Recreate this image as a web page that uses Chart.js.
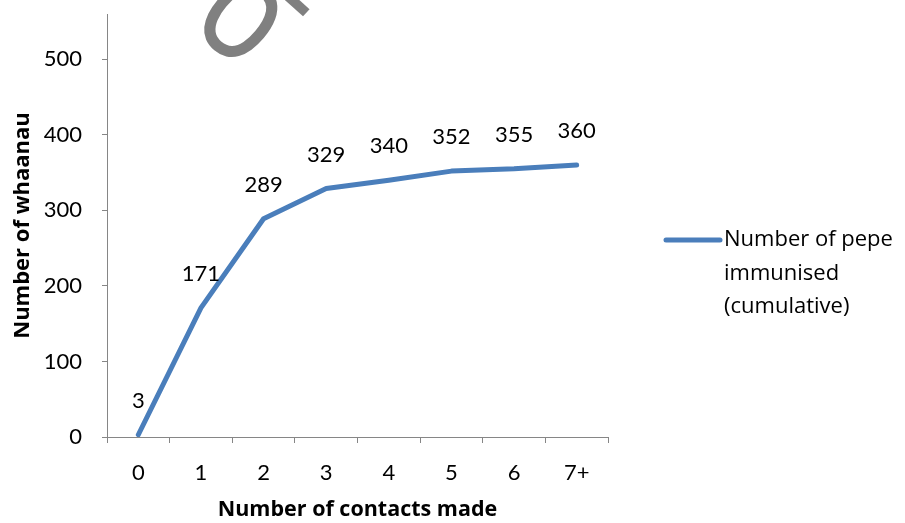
<!DOCTYPE html>
<html>
<head>
<meta charset="utf-8">
<script src="https://cdn.jsdelivr.net/npm/chart.js@4.4.1/dist/chart.umd.min.js"></script>
<style>
  html, body { margin: 0; padding: 0; background: #ffffff; }
  #c { display: block; }
</style>
</head>
<body>
<canvas id="c" width="905" height="523"></canvas>
<script>
// Cumulative pepe immunised by number of contacts made
const contactCategories = ['0', '1', '2', '3', '4', '5', '6', '7+'];
const pepeImmunised = [3, 171, 289, 329, 340, 352, 355, 360];
const yTickValues = [0, 100, 200, 300, 400, 500];
const seriesLabelLines = ['Number of pepe', 'immunised', '(cumulative)'];
const xAxisTitle = 'Number of contacts made';
const yAxisTitle = 'Number of whaanau';
const watermarkLetter = 'O';
const watermarkDash = '-';

const NUM_FONT = 'Lato, "Open Sans", sans-serif';
const TEXT_FONT = '"Open Sans", Lato, sans-serif';
const LINE_BLUE = '#4a7ebb';
const AXIS_GREY = '#868686';

// Value labels above each point
const valueLabels = {
  id: 'valueLabels',
  afterDatasetsDraw(chart) {
    const { ctx } = chart;
    const meta = chart.getDatasetMeta(0);
    ctx.save();
    ctx.font = '22px ' + NUM_FONT;
    ctx.fillStyle = '#000000';
    ctx.textAlign = 'center';
    ctx.textBaseline = 'middle';
    meta.data.forEach((pt, i) => {
      ctx.fillText(String(chart.data.datasets[0].data[i]), pt.x, pt.y - 34);
    });
    ctx.restore();
  }
};

// Legend on the right, wrapped over three lines
const sideLegend = {
  id: 'sideLegend',
  afterDraw(chart) {
    const { ctx } = chart;
    const x0 = 666, x1 = 720, y0 = 240;
    ctx.save();
    ctx.strokeStyle = LINE_BLUE;
    ctx.lineWidth = 5;
    ctx.lineCap = 'round';
    ctx.beginPath();
    ctx.moveTo(x0, y0);
    ctx.lineTo(x1, y0);
    ctx.stroke();
    ctx.font = '22px ' + TEXT_FONT;
    ctx.fillStyle = '#000000';
    ctx.textAlign = 'left';
    ctx.textBaseline = 'middle';
    seriesLabelLines.forEach((line, i) => {
      ctx.fillText(line, 724, y0 + i * 33.5);
    });
    ctx.restore();
  }
};

// Diagonal grey watermark lettering across the top edge
const watermark = {
  id: 'watermark',
  afterDraw(chart) {
    const { ctx } = chart;
    ctx.save();
    ctx.fillStyle = '#808080';
    ctx.textAlign = 'center';
    ctx.textBaseline = 'middle';
    ctx.save();
    ctx.font = '600 112px ' + TEXT_FONT;
    ctx.translate(238, 22);
    ctx.rotate(40 * Math.PI / 180);
    ctx.scale(0.8, 1);
    ctx.fillText(watermarkLetter, 0, 4);
    ctx.restore();
    ctx.save();
    ctx.font = '600 100px ' + TEXT_FONT;
    ctx.translate(298, 3);
    ctx.rotate(42 * Math.PI / 180);
    ctx.fillText(watermarkDash, 0, 0);
    ctx.restore();
    ctx.restore();
  }
};

new Chart(document.getElementById('c'), {
  type: 'line',
  data: {
    labels: contactCategories,
    datasets: [{
      label: seriesLabelLines.join(' '),
      data: pepeImmunised,
      borderColor: LINE_BLUE,
      backgroundColor: LINE_BLUE,
      borderWidth: 5,
      borderCapStyle: 'round',
      borderJoinStyle: 'round',
      pointRadius: 0,
      pointHoverRadius: 0,
      tension: 0,
      fill: false
    }]
  },
  options: {
    responsive: false,
    devicePixelRatio: 1,
    animation: false,
    events: [],
    layout: { padding: { top: 14, right: 297, left: 0, bottom: 0 } },
    plugins: {
      legend: { display: false },
      tooltip: { enabled: false }
    },
    scales: {
      x: {
        type: 'category',
        offset: true,
        afterFit(scale) {
          scale.height = 86;
          scale.paddingLeft = 0;
          scale.paddingRight = 0;
        },
        grid: {
          offset: true,
          drawOnChartArea: false,
          drawTicks: true,
          tickLength: 6,
          color: AXIS_GREY,
          lineWidth: 1
        },
        border: { color: AXIS_GREY, width: 1 },
        ticks: {
          font: { family: NUM_FONT, size: 22 },
          color: '#000000',
          padding: 17,
          maxRotation: 0,
          autoSkip: false
        },
        title: {
          display: true,
          text: xAxisTitle,
          font: { family: TEXT_FONT, size: 21.5, weight: 'bold' },
          color: '#000000',
          padding: { top: 0, bottom: 0 }
        }
      },
      y: {
        type: 'linear',
        min: 0,
        max: 560,
        afterFit(scale) {
          scale.width = 107;
          scale.paddingTop = 0;
          scale.paddingBottom = 0;
        },
        afterBuildTicks(scale) {
          scale.ticks = yTickValues.map(v => ({ value: v }));
        },
        grid: {
          drawOnChartArea: false,
          drawTicks: true,
          tickLength: 5,
          color: AXIS_GREY,
          lineWidth: 1
        },
        border: { color: AXIS_GREY, width: 1 },
        ticks: {
          font: { family: NUM_FONT, size: 22 },
          color: '#000000',
          padding: 20
        },
        title: {
          display: true,
          text: yAxisTitle,
          font: { family: TEXT_FONT, size: 22, weight: 'bold' },
          color: '#000000',
          padding: { top: 10, bottom: 0 }
        }
      }
    }
  },
  plugins: [valueLabels, sideLegend, watermark]
});
</script>
</body>
</html>
